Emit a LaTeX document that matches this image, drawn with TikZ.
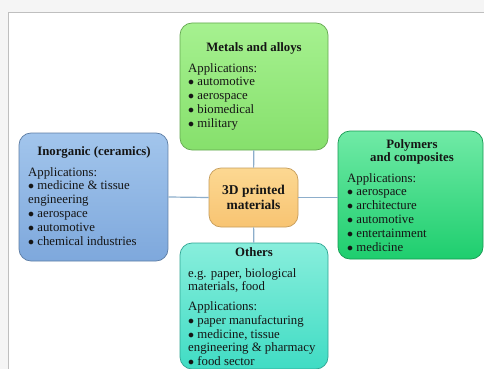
\documentclass[tikz,border=0pt]{standalone}
\usepackage{fontspec}
\setmainfont{Liberation Serif}
\usetikzlibrary{calc}

\definecolor{metalTop}{HTML}{A6F190}
\definecolor{metalBot}{HTML}{86E06C}
\definecolor{ceramTop}{HTML}{A2C5EC}
\definecolor{ceramBot}{HTML}{7EA8DC}
\definecolor{polyTop}{HTML}{70EAA6}
\definecolor{polyBot}{HTML}{1ECE6E}
\definecolor{otherTop}{HTML}{88EEDC}
\definecolor{otherBot}{HTML}{40DCC4}
\definecolor{printTop}{HTML}{FCD892}
\definecolor{printBot}{HTML}{F8C472}
\definecolor{linkCol}{HTML}{8DAECB}
\definecolor{inkCol}{HTML}{151515}

\def\appfont{\fontsize{12.8}{13.8}\selectfont}

\tikzset{
  matbox/.style={draw=#1, rounded corners=12pt, line width=0.7pt, inner sep=0pt},
  boxtitle/.style={font=\appfont\bfseries, text=inkCol, align=center, inner sep=0pt},
  boxtext/.style={font=\appfont, text=inkCol, align=left, anchor=north west, inner sep=0pt},
  link/.style={draw=linkCol, line width=1.2pt}
}

\begin{document}
\begin{tikzpicture}[x=1pt, y=-1pt]
		%%%%% START %%%%%
		\useasboundingbox (0, 0) rectangle (484, 369);
		\fill[black!4] (0, 0) rectangle (484, 369);
		\draw[fill=white, draw=black!25, line width=0.8pt] (8, 380) -- (8, 12) -- (495, 12) -- (495, 380) -- cycle;
		
		% the five boxes
		\node[matbox=metalBot!75!black, top color=metalTop, bottom color=metalBot, minimum width=148, minimum height=127] (metals) at (254, 86.5) {};
		\node[matbox=ceramBot!75!black, top color=ceramTop, bottom color=ceramBot, minimum width=149, minimum height=128] (inorganic) at (93.5, 197) {};
		\node[matbox=polyBot!75!black, top color=polyTop, bottom color=polyBot, minimum width=145, minimum height=128] (polymers) at (410.5, 195) {};
		\node[matbox=otherBot!75!black, top color=otherTop, bottom color=otherBot, minimum width=148, minimum height=126] (others) at (254, 306) {};
		\node[matbox=printBot!80!black, top color=printTop, bottom color=printBot, minimum width=89, minimum height=59, font=\fontsize{13.5}{15}\selectfont\bfseries, text=inkCol, align=center] (printed) at (253.5, 197.5) {3D printed\\materials};
		
		% connectors
		\draw[link] (metals) -- (printed);
		\draw[link] (printed) -- (others);
		\draw[link] (printed.west) -- (inorganic.east);
		\draw[link] (printed.east) -- (printed.east -| polymers.west);
		
		% texts
		\node[boxtitle] (metals-title) at (254, 48) {Metals and alloys};
		\node[boxtext] (metals-text) at (188, 63) {Applications:\\$\bullet$ automotive\\$\bullet$ aerospace\\$\bullet$ biomedical\\$\bullet$ military};
		
		\node[boxtitle] (inorganic-title) at (94, 152) {Inorganic (ceramics)};
		\node[boxtext] (inorganic-text) at (28, 167) {Applications:\\$\bullet$ medicine \& tissue\\engineering\\$\bullet$ aerospace\\$\bullet$ automotive\\$\bullet$ chemical industries};
		
		\node[boxtitle] (polymers-title) at (412, 152) {Polymers\\and composites};
		\node[boxtext] (polymers-text) at (347, 173) {Applications:\\$\bullet$ aerospace\\$\bullet$ architecture\\$\bullet$ automotive\\$\bullet$ entertainment\\$\bullet$ medicine};
		
		\node[boxtitle] (others-title) at (254, 252) {Others};
		\node[boxtext] (others-text) at (188, 268) {e.g. paper, biological\\materials, food};
		\node[boxtext] (others-apps) at (188, 301.5) {Applications:\\$\bullet$ paper manufacturing\\$\bullet$ medicine, tissue\\engineering \& pharmacy\\$\bullet$ food sector};
		%%%%% END %%%%%
\end{tikzpicture}
\end{document}
